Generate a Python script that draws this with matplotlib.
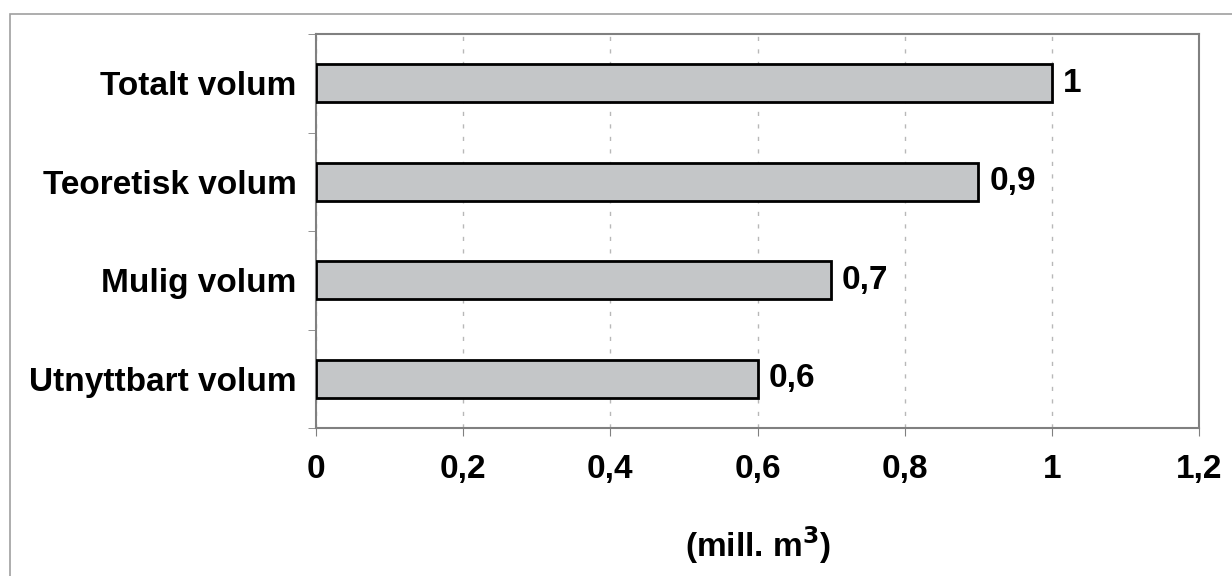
import matplotlib.pyplot as plt
from matplotlib.patches import Rectangle

# data
categories = ['Utnyttbart volum', 'Mulig volum', 'Teoretisk volum', 'Totalt volum']
values = [0.6, 0.7, 0.9, 1.0]
value_labels = ['0,6', '0,7', '0,9', '1']
xticks = [0, 0.2, 0.4, 0.6, 0.8, 1.0, 1.2]
xtick_labels = ['0', '0,2', '0,4', '0,6', '0,8', '1', '1,2']

plt.rcParams['font.family'] = ['Liberation Sans', 'DejaVu Sans']
plt.rcParams['font.weight'] = 'bold'
plt.rcParams['mathtext.default'] = 'bf'
fs = 24

fig = plt.figure(figsize=(12.32, 5.76), dpi=100)
ax = fig.add_axes([316 / 1232, 1 - 428 / 576, 883 / 1232, 394 / 576])

# outer frame
fig.patches.append(Rectangle((10 / 1232, -0.01), 1.0, 1 - 14 / 576 + 0.01,
                             transform=fig.transFigure, fill=False,
                             edgecolor='#a0a0a0', linewidth=1.2))

ypos = list(range(len(categories)))
ax.barh(ypos, values, height=0.39, color='#c4c6c8', edgecolor='black',
        linewidth=2, zorder=3)
for y, v, lab in zip(ypos, values, value_labels):
    ax.text(v + 0.015, y, lab, va='center', ha='left', fontsize=fs,
            fontweight='bold')

ax.set_xlim(0, 1.2)
ax.set_ylim(-0.5, 3.5)
ax.set_xticks(xticks)
ax.set_xticklabels(xtick_labels, fontsize=fs, fontweight='bold')
ax.set_yticks(ypos)
ax.set_yticklabels(categories, fontsize=fs, fontweight='bold')
ax.tick_params(axis='y', length=0, pad=14)
ax.set_yticks([-0.5, 0.5, 1.5, 2.5, 3.5], minor=True)
ax.tick_params(axis='y', which='minor', length=6, color='#808080')
ax.tick_params(axis='x', length=6, color='#808080', pad=13)

ax.grid(axis='x', linestyle=(0, (3, 6)), color='#b8b8b8', linewidth=1, zorder=0)
for s in ax.spines.values():
    s.set_color('#808080')
    s.set_linewidth(1.5)

ax.set_xlabel('(mill. m$^3$)', fontsize=fs, fontweight='bold', labelpad=28)

fig.savefig('out.png', dpi=100)
